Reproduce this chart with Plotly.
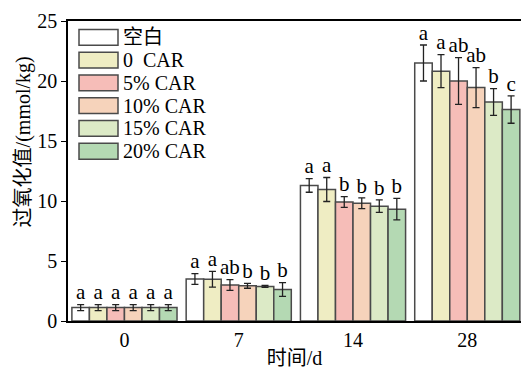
import plotly.graph_objects as go

days = ["0", "7", "14", "28"]
series = ["空白", "0  CAR", "5% CAR", "10% CAR", "15% CAR", "20% CAR"]
colors = ["#ffffff", "#efedc3", "#f6bdb8", "#f6d3bb", "#dceac6", "#b4d9b3"]

values = [
    [1.12, 3.50, 11.30, 21.50],
    [1.12, 3.48, 10.96, 20.82],
    [1.12, 3.00, 9.92, 20.00],
    [1.12, 2.93, 9.81, 19.45],
    [1.12, 2.88, 9.57, 18.25],
    [1.12, 2.62, 9.32, 17.62],
]
errors = [
    [0.25, 0.45, 0.57, 1.50],
    [0.25, 0.65, 1.00, 1.38],
    [0.25, 0.45, 0.45, 1.95],
    [0.25, 0.20, 0.45, 1.67],
    [0.25, 0.08, 0.52, 1.12],
    [0.25, 0.57, 0.90, 1.14],
]
letters = [
    ["a", "a", "a", "a"],
    ["a", "a", "a", "a"],
    ["a", "ab", "b", "ab"],
    ["a", "b", "b", "ab"],
    ["a", "b", "b", "b"],
    ["a", "b", "b", "c"],
]

FONT = "Liberation Serif, Times New Roman, Noto Sans CJK SC, serif"
group_w = 0.92
n = len(series)
w = group_w / n

fig = go.Figure()
for i, name in enumerate(series):
    xs = [g + (i - (n - 1) / 2) * w for g in range(len(days))]
    fig.add_trace(go.Bar(
        x=xs, y=values[i], width=w, name=name,
        marker=dict(color=colors[i], line=dict(color="#4a4a4a", width=1.5)),
        error_y=dict(type="data", array=errors[i], color="#222222", thickness=1.3, width=3.5),
        showlegend=False,
    ))
    fig.add_trace(go.Scatter(
        x=xs, y=[v + e for v, e in zip(values[i], errors[i])],
        mode="text", text=letters[i], textposition="top center",
        textfont=dict(family=FONT, size=21, color="black"),
        showlegend=False, hoverinfo="skip",
    ))

# custom legend (top-left inside plot)
L, R, T, B = 68, 521, 21, 325
def px(x):
    return (x - L) / (R - L)
def py(y):
    return (B - y) / (B - T)
row0, step = 37.5, 23.1
for i, name in enumerate(series):
    cy = row0 + i * step
    fig.add_shape(type="rect", xref="paper", yref="paper",
                  x0=px(79), x1=px(118), y0=py(cy - 8), y1=py(cy + 8),
                  fillcolor=colors[i], line=dict(color="#4a4a4a", width=1.5))
    fig.add_annotation(xref="paper", yref="paper", x=px(121), y=py(cy),
                       text=name, showarrow=False, xanchor="left", yanchor="middle",
                       font=dict(family=FONT, size=20, color="black"))

# y-axis title
fig.add_annotation(xref="paper", yref="paper", x=px(23), y=py(144),
                   text="过氧化值/(mmol/kg)", textangle=-90, showarrow=False,
                   xanchor="center", yanchor="middle",
                   font=dict(family=FONT, size=20, color="black"))

fig.update_layout(
    width=521, height=369,
    margin=dict(l=L, r=0, t=T, b=369 - B),
    plot_bgcolor="white", paper_bgcolor="white",
    barmode="overlay",
    font=dict(family=FONT, size=20, color="black"),
    xaxis=dict(
        range=[-0.494, 3.47], tickvals=list(range(len(days))), ticktext=days,
        showline=True, linecolor="black", linewidth=1.5, mirror=True,
        ticks="", showgrid=False, zeroline=False,
        title=dict(text="时间/d", font=dict(family=FONT, size=20), standoff=4),
        tickfont=dict(family=FONT, size=20),
    ),
    yaxis=dict(
        range=[0, 25], tickvals=[0, 5, 10, 15, 20, 25],
        showline=True, linecolor="black", linewidth=1.5,
        ticks="outside", ticklen=5, tickcolor="black", tickwidth=1.2,
        showgrid=False, zeroline=False,
        tickfont=dict(family=FONT, size=20),
    ),
)

fig.write_html("out.html")
